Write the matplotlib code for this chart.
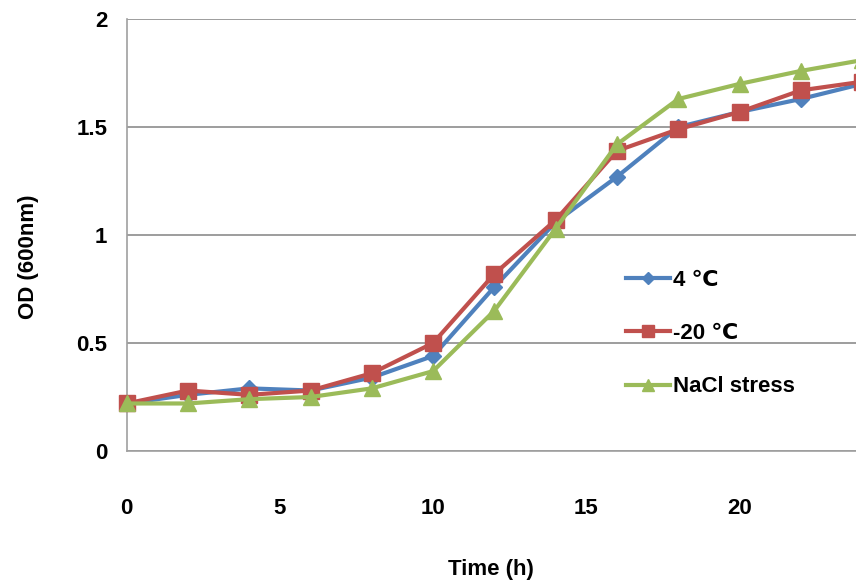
import matplotlib.pyplot as plt
import numpy as np

plt.rcParams['font.family'] = ['Liberation Sans', 'DejaVu Sans']

czas = [0, 2, 4, 6, 8, 10, 12, 14, 16, 18, 20, 22, 24]
od_4 = [0.22, 0.26, 0.29, 0.28, 0.34, 0.44, 0.76, 1.06, 1.27, 1.50, 1.57, 1.63, 1.70]
od_20 = [0.22, 0.28, 0.26, 0.28, 0.36, 0.50, 0.82, 1.07, 1.39, 1.49, 1.57, 1.67, 1.71]
od_nacl = [0.22, 0.22, 0.24, 0.25, 0.29, 0.37, 0.65, 1.03, 1.42, 1.63, 1.70, 1.76, 1.81]
etykiety = ['4 \u2103', '-20 \u2103', 'NaCl stress']

fig = plt.figure(figsize=(8.56, 5.86), dpi=100)
ax = fig.add_axes([0.148, 0.2304, 0.852, 0.737])

ax.plot(czas, od_4, color='#4F81BD', lw=3, marker='D', ms=8, label=etykiety[0], clip_on=False, zorder=3)
ax.plot(czas, od_20, color='#C0504D', lw=3, marker='s', ms=12, label=etykiety[1], clip_on=False, zorder=4)
ax.plot(czas, od_nacl, color='#9BBB59', lw=3, marker='^', ms=12, label=etykiety[2], clip_on=False, zorder=5)

ax.set_xlim(0, 23.8)
ax.set_ylim(0, 2)
ax.set_xticks(np.arange(0, 25, 5))
ax.set_yticks([0, 0.5, 1, 1.5, 2])
ax.set_yticklabels(['0', '0.5', '1', '1.5', '2'])
ax.grid(axis='y', color='#8c8c8c', lw=1.2)
ax.set_axisbelow(True)
for s in ['top', 'right']:
    ax.spines[s].set_visible(False)
for s in ['left', 'bottom']:
    ax.spines[s].set_color('#a0a0a0')
    ax.spines[s].set_linewidth(1.2)
ax.tick_params(axis='both', length=0, labelsize=16)
ax.tick_params(axis='x', pad=34)
ax.tick_params(axis='y', pad=14)
for t in ax.get_xticklabels() + ax.get_yticklabels():
    t.set_fontweight('bold')

ax.set_xlabel('Time (h)', fontsize=16, fontweight='bold', labelpad=29)
ax.set_ylabel('OD (600nm)', fontsize=16, fontweight='bold')
ax.yaxis.set_label_coords(-0.12, 0.45)

leg = ax.legend(loc='upper left', bbox_to_anchor=(0.672, 0.44), frameon=False,
                prop={'size': 16, 'weight': 'bold'}, handlelength=2.0,
                handletextpad=0.15, labelspacing=1.45, markerscale=0.75,
                borderaxespad=0)

plt.savefig('out.png', dpi=100)
